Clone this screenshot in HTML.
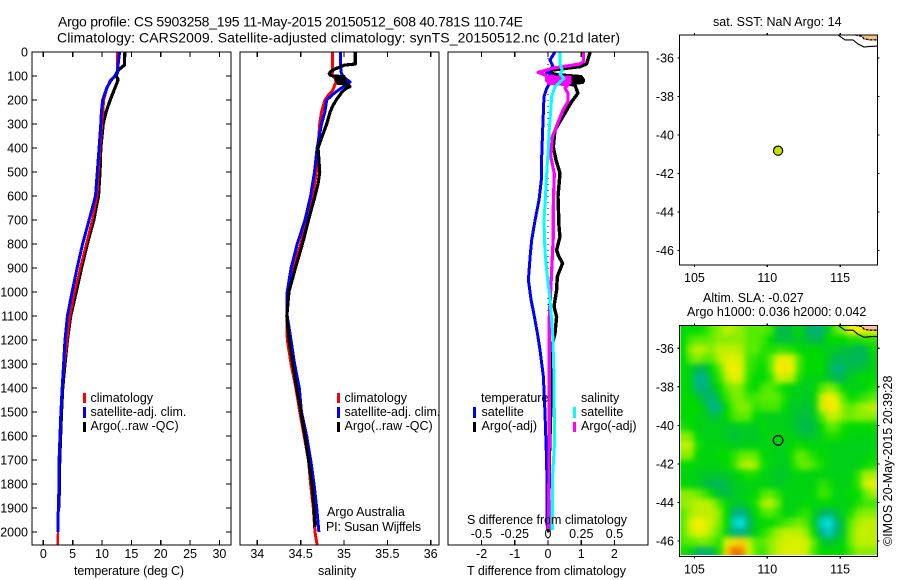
<!DOCTYPE html>
<html lang="en">
<head>
<meta charset="utf-8">
<title>Argo profile</title>
<style>
html,body{margin:0;padding:0;background:#fff;}
#chart{display:block;width:900px;height:580px;font-family:"Liberation Sans",sans-serif;}
#chart text{font-size:12.5px;fill:#000;}
#chart text.title{font-size:14px;}
.frame{fill:none;stroke:#000;stroke-width:1.4;shape-rendering:crispEdges;}
.tick{stroke:#000;stroke-width:1.2;shape-rendering:crispEdges;}
.series{fill:none;stroke-linejoin:round;shape-rendering:crispEdges;}
</style>
</head>
<body>
<svg id="chart" xmlns="http://www.w3.org/2000/svg" width="900" height="580" viewBox="0 0 900 580">
  <defs>
    <clipPath id="clip-temp"><rect x="32" y="52" width="199" height="493"/></clipPath>
    <clipPath id="clip-sal"><rect x="240" y="52" width="199" height="493"/></clipPath>
    <clipPath id="clip-diff"><rect x="448" y="52" width="200" height="493"/></clipPath>
    <clipPath id="clip-sla"><rect x="680.5" y="326" width="197" height="229"/></clipPath>
    <filter id="sla-smooth" filterUnits="userSpaceOnUse" x="640" y="280" width="280" height="320" color-interpolation-filters="sRGB"><feGaussianBlur stdDeviation="3"/></filter>
  </defs>

  <text class="title" x="58" y="26.5" textLength="465" lengthAdjust="spacing">Argo profile: CS 5903258_195 11-May-2015 20150512_608 40.781S 110.74E</text>
  <text class="title" x="57" y="42.5" textLength="563" lengthAdjust="spacing">Climatology: CARS2009. Satellite-adjusted climatology: synTS_20150512.nc (0.21d later)</text>

  <g id="panel-temp"></g>
  <g id="panel-sal"></g>
  <g id="panel-diff"></g>
  <g id="map-sst"></g>
  <g id="map-sla"></g>

  <text x="74" y="575" textLength="110" lengthAdjust="spacing">temperature (deg C)</text>
  <text x="318" y="575">salinity</text>
  <text x="467" y="575" textLength="159" lengthAdjust="spacing">T difference from climatology</text>
  <text x="467" y="524" textLength="160" lengthAdjust="spacing">S difference from climatology</text>

  <g>
    <rect x="83" y="393" width="3" height="10" fill="#f00"/>
    <rect x="83" y="407" width="3" height="11" fill="#00f"/>
    <rect x="83" y="422" width="3" height="10" fill="#000"/>
    <text x="90.5" y="402">climatology</text>
    <text x="90.5" y="416">satellite-adj. clim.</text>
    <text x="90.5" y="430">Argo(..raw -QC)</text>
  </g>
  <g>
    <rect x="337" y="393" width="3" height="10" fill="#f00"/>
    <rect x="337" y="407" width="3" height="11" fill="#00f"/>
    <rect x="337" y="422" width="3" height="10" fill="#000"/>
    <text x="344.5" y="402">climatology</text>
    <text x="344.5" y="416">satellite-adj. clim.</text>
    <text x="344.5" y="430">Argo(..raw -QC)</text>
  </g>
  <g>
    <rect x="473" y="407" width="3" height="11" fill="#00f"/>
    <rect x="473" y="422" width="3" height="10" fill="#000"/>
    <rect x="573" y="407" width="3" height="11" fill="#0ff"/>
    <rect x="573" y="422" width="3" height="10" fill="#f0f"/>
    <text x="481" y="402">temperature</text>
    <text x="481.5" y="416">satellite</text>
    <text x="481.5" y="430">Argo(-adj)</text>
    <text x="581" y="402">salinity</text>
    <text x="581" y="416">satellite</text>
    <text x="581" y="430">Argo(-adj)</text>
  </g>

  <text x="327" y="516">Argo Australia</text>
  <text x="326" y="531" textLength="95" lengthAdjust="spacing">PI: Susan Wijffels</text>

  <text x="713" y="26">sat. SST: NaN Argo: 14</text>
  <text x="703" y="302">Altim. SLA: -0.027</text>
  <text x="687" y="316">Argo h1000: 0.036 h2000: 0.042</text>
  <text transform="translate(892,546) rotate(-90)" x="0" y="0">©IMOS 20-May-2015 20:39:28</text>
</svg>

<script>
/* ---------- depth ticks ---------- */
const depthTicks = [0,100,200,300,400,500,600,700,800,900,1000,1100,1200,1300,1400,1500,1600,1700,1800,1900,2000];

/* ---------- temperature panel ---------- */
const tempTicks = [0,5,10,15,20,25,30];
const tempClimDepth = [0,80,100,120,150,200,250,300,400,500,600,700,800,900,1000,1100,1200,1300,1400,1500,1600,1700,1800,1900,2000,2054];
const tempClim = [12.6,12.6,12.2,11.3,10.9,10.3,10.2,10.0,9.7,9.4,9.2,8.35,7.3,6.3,5.35,4.55,4.05,3.6,3.2,3.0,2.85,2.75,2.7,2.58,2.5,2.45];
const tempSatDepth = [0,80,100,120,150,200,250,300,400,500,600,700,800,900,1000,1100,1200,1300,1400,1500,1600,1700,1800,1900,2000];
const tempSat = [13.0,12.6,12.2,11.5,10.8,10.1,9.9,9.8,9.5,9.2,8.9,7.8,6.7,5.75,4.9,4.1,3.7,3.45,3.22,3.0,2.85,2.7,2.7,2.55,2.5];
const tempArgoDepth = [0,55,75,100,110,120,150,200,250,300,400,500,600,700,800,900,1000,1100,1200,1300,1400,1500,1600,1700,1800,1900];
const tempArgo = [13.9,13.8,12.8,12.4,12.7,12.7,12.2,11.4,10.7,10.2,9.8,9.66,9.4,8.6,7.5,6.5,5.6,4.67,4.1,3.7,3.3,3.1,2.95,2.8,2.75,2.65];

/* ---------- salinity panel ---------- */
const salTicks = [34,34.5,35,35.5,36];
const salTickLabels = ['34','34.5','35','35.5','36'];
const salClimDepth = [0,85,95,110,125,140,160,180,200,250,300,350,400,500,600,700,800,900,1000,1100,1200,1300,1400,1500,1600,1700,1800,1900,2000,2054];
const salClim = [34.865,34.865,34.86,34.9,34.91,34.89,34.87,34.82,34.78,34.74,34.72,34.71,34.695,34.68,34.64,34.575,34.5,34.42,34.35,34.34,34.346,34.39,34.445,34.49,34.54,34.59,34.615,34.646,34.665,34.69];
const salSatDepth = [0,60,90,110,125,140,160,180,200,250,300,400,500,600,700,800,900,1000,1100,1200,1300,1400,1500,1600,1700,1800,1900,2000];
const salSat = [34.96,34.96,34.97,35.01,35.07,35.01,34.93,34.86,34.8,34.78,34.74,34.69,34.66,34.615,34.55,34.46,34.39,34.345,34.345,34.389,34.43,34.485,34.51,34.57,34.616,34.654,34.685,34.71];
const salArgoDepth = [0,50,55,62,70,80,90,96,100,103,106,109,112,115,118,121,124,127,130,133,137,144,150,165,180,200,225,250,300,350,400,450,500,550,600,700,800,900,1000,1100,1200,1300,1400,1500,1600,1700,1800,1900,1980];
const salArgo = [35.13,35.13,35.0,34.96,34.9,34.85,34.83,34.84,34.88,35.0,34.91,35.01,34.91,35.01,34.91,35.01,34.92,35.02,34.93,35.02,35.05,35.07,35.03,34.98,34.95,34.91,34.87,34.84,34.8,34.75,34.7,34.71,34.72,34.7,34.665,34.59,34.52,34.44,34.365,34.34,34.366,34.41,34.455,34.504,34.55,34.59,34.63,34.654,34.665];

/* ---------- difference panel ---------- */
const diffTTicks = [-2,-1,0,1,2];
const diffSTicks = [-0.5,-0.25,0,0.25,0.5];
const diffSTickLabels = ['-0.5','-0.25','0','0.25','0.5'];
const diffTArgoDepth = [0,50,61,75,85,95,103,106,109,112,115,118,121,124,127,130,137,172,207,255,325,395,450,505,603,728,770,825,850,880,936,992,1061,1103,1172,1242,1353,1500,1700,2000];
const diffTArgo = [1.27,1.16,0.96,0.15,-0.04,0.3,1.0,0.1,1.03,0.1,1.06,0.1,1.06,0.2,1.03,0.3,0.81,0.9,0.71,0.51,0.21,0.16,0.24,0.36,0.3,0.33,0.36,0.26,0.32,0.44,0.28,0.26,0.18,0.26,0.21,0.09,0.11,0.08,0.04,0.02];
const diffTSatDepth = [0,33,61,82,100,110,151,186,353,436,520,617,700,783,853,950,1033,1103,1172,1242,1353,1505,1714,1992];
const diffTSat = [0.21,0.06,0.15,-0.04,0.15,0.15,-0.04,-0.12,-0.17,-0.19,-0.19,-0.27,-0.39,-0.49,-0.54,-0.59,-0.51,-0.41,-0.32,-0.24,-0.14,-0.09,-0.04,-0.02];
const diffSSatDepth = [0,47,75,92,110,144,186,325,395,505,645,700,825,936,1033,1172,1353,1505,1644,1783,1992];
const diffSSat = [0.09,0.09,0.107,0.09,0.12,0.053,0.028,0.01,0.003,-0.01,-0.023,-0.03,-0.023,-0.005,0.015,0.035,0.045,0.047,0.047,0.033,0.035];
const diffSArgoDepth = [0,40,50,67,85,96,103,105,107,109,111,113,115,117,119,121,123,125,127,129,131,136,151,172,207,242,325,353,436,505,645,770,908,992,1103,1353,1505,1714,1992];
const diffSArgo = [0.266,0.266,0.24,0.04,-0.075,-0.02,-0.01,0.165,-0.01,0.165,-0.01,0.165,-0.01,0.165,-0.01,0.165,0.0,0.165,0.0,0.165,0.01,0.15,0.128,0.15,0.15,0.113,0.053,0.033,0.02,0.047,0.04,0.04,0.028,0.02,0.01,0.01,0.01,0.008,0.002];

/* ---------- maps ---------- */
const lonTicks = [105,110,115];
const latTicks = [-36,-38,-40,-42,-44,-46];
const floatLon = [110.74];
const floatLat = [-40.781];
const coastOuterLon = [114.85,115.33,115.88,116.22,116.64,117.05,117.6];
const coastOuterLat = [-34.8,-35.06,-35.06,-35.27,-35.43,-35.4,-35.38];
const coastInnerLon = [116.02,116.5,116.64,117.05,117.6];
const coastInnerLat = [-34.8,-34.88,-35.01,-35.06,-35.06];
/* sea level anomaly colour classes, 0.5 degree cells, north to south */
const slaGrid = [
[0,0,0,0.3,1,1.5,2,1.8,1.5,1,1,1,0.7,-0.8,-1,-0.6,0,-1,-1.5,-1.5,-0.3,1,1.5,3,3,3,3],
[0,0.8,1,1,1.2,1.5,1.5,1.5,1.5,1,1,0.7,0,-0.7,-0.8,-0.7,-0.3,-0.8,-1,-1,0,0,0,0.3,0.3,0.5,0.5],
[0,1.5,2,1.8,1.5,2,2,2,1.8,1,1,0.5,0.3,0.5,0.5,0.3,0,-0.2,0,-0.2,-0.3,-0.5,-0.7,-0.8,-1,-1,0],
[0,1,1.5,1,1,2,2.5,2.7,2.2,0.8,0.5,0.2,1,2.5,2.8,2.5,0.8,0,0,0,-0.5,-1,-1,-1,-1.2,-1,-0.3],
[0,-0.3,-1,-1,0,1,2.5,3,2.5,0.7,0.3,0,1,3,3.2,2.8,0.7,0,0,0,-0.7,-1.6,-1.3,-0.8,-0.8,-0.6,-0.2],
[0,-0.3,-1.8,-1.8,-0.3,0.5,2,2.7,2.3,0.5,0,0,0.5,2,2.2,1.8,0.3,-0.3,-0.2,-0.2,-0.5,-1,-1,-0.3,-0.2,0,0],
[0,-0.3,-1.5,-1.6,-0.8,0,1,1.5,1.3,0.3,0,0.8,1,0.5,0,-0.2,-0.3,-0.4,-0.2,0.8,1.5,1,0,-0.3,-0.3,-0.2,0.3],
[0,0,-0.5,-1.2,-1.5,-0.5,0.5,1.3,1.3,0.7,0.8,1,1,1,0.3,-0.3,-0.3,-0.5,-0.2,2,3,2.5,1,0,0.3,0.6,1],
[0,0,0,-0.5,-1.8,-1.5,0,1,1.5,1.3,0.5,0.7,0.8,0.7,0,-0.5,-0.5,-0.7,-0.3,2.3,3.2,3,1.5,1,1.5,1.8,2],
[0,0,-0.2,-0.2,-0.8,-0.6,0,0.8,1,1,0,-0.3,-0.3,-0.3,-0.3,-0.5,-0.7,-0.8,-0.5,0.8,2,2,1.5,1.2,1.5,1.5,1.5],
[0.3,0,-0.3,-0.3,-0.3,-0.3,-0.5,-0.5,-0.3,-0.3,-0.5,0,-0.3,-0.3,-0.3,-0.5,-0.8,-1,-0.8,0,1,1,0.3,0,0,0,0],
[1.5,1.3,0,-0.3,-0.3,-0.3,-0.5,-0.7,-0.5,-0.5,-0.5,-0.2,-0.2,-0.2,-0.2,-0.2,-0.5,-0.7,-0.5,-0.2,0.3,0.3,0,-0.2,-0.2,-0.2,-0.2],
[2,2,0.3,-0.2,-0.2,-0.2,-0.2,-0.3,-0.3,-0.3,-0.3,-0.2,-0.2,-0.3,-0.3,0,0.2,0,-0.2,-0.2,-0.2,-0.3,-0.3,-0.3,-0.3,-0.3,-0.2],
[1.5,1.5,0,-0.2,-0.2,0,0,0.5,1,1.2,1,0,-0.2,-0.3,-0.3,0.3,1.2,0.8,0.3,0,-0.2,-0.3,-0.3,-0.3,-0.3,-0.3,0],
[0,0,-0.2,-0.2,-0.2,-0.2,0,0.5,1.7,2,1.7,0.2,-0.2,-0.3,-0.5,0.2,1,1.2,0.7,0.2,-0.2,-0.3,-0.3,-0.3,-0.3,0,0.3],
[-0.2,-0.2,-0.3,-0.5,-0.5,-0.5,-0.5,-0.3,0,0.3,0.2,-0.2,-0.3,-0.5,-0.5,-0.3,-0.2,-0.2,-0.2,-0.2,-0.3,-0.3,-0.3,-0.2,0.5,1.7,1.8],
[0,-0.2,-0.3,-0.8,-1,-1.2,-0.8,-0.5,-0.3,-0.2,-0.2,-0.2,-0.3,-0.5,-0.3,-0.2,-0.2,-0.2,-0.2,0.5,0.3,-0.2,-0.3,-0.2,0.5,2.3,2.7],
[1.5,1.5,1.2,0.7,0,-0.8,-0.8,-0.5,-0.3,-0.2,0,0.8,1,0.5,-0.2,-0.2,-0.2,-0.2,0,0.7,0.5,-0.2,-0.2,0,0,1,1.7],
[1.5,1.8,2,2,1.8,0.8,0,-0.5,-0.5,-0.2,0.3,1.7,2,1.2,-0.2,-0.2,-0.2,0,-0.2,0,0,-0.2,-0.2,-0.2,0.3,0.7,0.7],
[1,1.7,2,2,2,1.5,0,-1.5,-1.8,-1,0,0.7,1,0.5,-0.2,-0.2,0.3,0.5,-0.3,-1,-1.5,-0.8,-0.3,0.3,1.2,1.5,1.5],
[1,2.3,3,2.7,2,1.3,0,-2.5,-3,-1.5,-0.3,0,0,0.3,0.7,1,1.3,0.8,-0.5,-2.5,-3,-1.8,-0.5,1,1.8,2,2],
[1,2,2.7,2.5,1.7,1,-0.3,-1.5,-1.8,-1,-0.2,0.3,1,1.7,2,2,2,1.5,0,-1.7,-2.5,-1.5,-0.5,1.2,2,2.2,2],
[0.8,1,1.2,1.3,1,0.5,2.5,3.3,3.5,2.2,1,1,1.5,2,2.3,2.5,2.5,2.3,1,-0.3,-0.8,-0.5,-0.2,1.2,2,2,2],
[0.3,-0.2,-1.2,-1.5,-1,0.3,3.5,5,4.8,2.5,1,0.6,1.5,2,2.5,2.5,2.5,2.2,0.8,0,0,0,0,0.7,1.5,1.5,1.5]
];
const slaColourLevels = [-3,-2,-1,0,1,2,3,4,5];
const slaColours = [[0,232,232],[0,176,160],[0,184,80],[0,218,0],[88,236,0],[188,240,0],[248,240,0],[248,176,0],[240,112,0]];

/* ---------- axis functions ---------- */
const NS = 'http://www.w3.org/2000/svg';
function yOf(d){return 52+0.24*d;}
function xTemp(v){return 43.3+5.87*v;}
function xSal(v){return 257.3+86.7*(v-34);}
function xDiffT(v){return 548+33.2*v;}
function xDiffS(v){return 548+133*v;}
function xLon(v){return 767.3+14.57*(v-110);}
function ySst(v){return 58+19.25*(-36-v);}
function ySla(v){return 348.3+19.27*(-36-v);}

function make(parent,tag,attrs,txt){
  const e=document.createElementNS(NS,tag);
  for(const k in attrs){e.setAttribute(k,attrs[k]);}
  if(txt!==undefined){e.textContent=txt;}
  parent.appendChild(e);
  return e;
}
function tickLine(parent,x1,y1,x2,y2,name){
  const el=make(parent,'line',{x1:x1,y1:y1,x2:x2,y2:y2,'class':'tick'});
  
  
}
function label(parent,x,y,anchor,str,name){
  const el=make(parent,'text',{x:x,y:y,'text-anchor':anchor},str);
  
  
}
function frame(parent,x,y,w,h,name){
  const el=make(parent,'rect',{x:x,y:y,width:w,height:h,'class':'frame'});
  
  
}
function series(parent,clip,depths,vals,xf,colour,width,name){
  const pts=vals.map(function(v,i){return xf(v).toFixed(1)+','+yOf(depths[i]).toFixed(1);}).join(' ');
  const el=make(parent,'polyline',{points:pts,'class':'series',stroke:colour,'stroke-width':width,'clip-path':'url(#'+clip+')'});
  
  
}

/* ---------- temperature ---------- */
const gT=document.getElementById('panel-temp');
series(gT,'clip-temp',tempArgoDepth,tempArgo,xTemp,'#000',3.2,'temperature-argo-line');
series(gT,'clip-temp',tempClimDepth,tempClim,xTemp,'#f00',2.4,'temperature-climatology-line');
series(gT,'clip-temp',tempSatDepth,tempSat,xTemp,'#00f',3,'temperature-satellite-line');
frame(gT,32,52,199,493,'temperature-plot-frame');
depthTicks.forEach(function(d){
  tickLine(gT,32,yOf(d),37,yOf(d),'depth-tick-left');
  tickLine(gT,226,yOf(d),231,yOf(d),'depth-tick-right');
  label(gT,28,yOf(d)+4.5,'end',String(d),'depth-tick-label');
});
tempTicks.forEach(function(v){
  tickLine(gT,xTemp(v),52,xTemp(v),57,'temperature-tick-top');
  tickLine(gT,xTemp(v),540,xTemp(v),545,'temperature-tick-bottom');
  label(gT,xTemp(v),558,'middle',String(v),'temperature-tick-label');
});

/* ---------- salinity ---------- */
const gS=document.getElementById('panel-sal');
series(gS,'clip-sal',salClimDepth,salClim,xSal,'#f00',3,'salinity-climatology-line');
series(gS,'clip-sal',salSatDepth,salSat,xSal,'#00f',3,'salinity-satellite-line');
series(gS,'clip-sal',salArgoDepth,salArgo,xSal,'#000',3.2,'salinity-argo-line');
frame(gS,240,52,199,493,'salinity-plot-frame');
salTicks.forEach(function(v,i){
  tickLine(gS,xSal(v),52,xSal(v),57,'salinity-tick-top');
  tickLine(gS,xSal(v),540,xSal(v),545,'salinity-tick-bottom');
  label(gS,xSal(v),558,'middle',salTickLabels[i],'salinity-tick-label');
});

/* ---------- differences ---------- */
const gD=document.getElementById('panel-diff');
const zero=make(gD,'line',{x1:xDiffT(0),y1:52,x2:xDiffT(0),y2:545,stroke:'#000','stroke-width':1,'stroke-dasharray':'1 5','shape-rendering':'crispEdges'});


series(gD,'clip-diff',diffTArgoDepth,diffTArgo,xDiffT,'#000',3.4,'t-difference-argo-line');
series(gD,'clip-diff',diffTSatDepth,diffTSat,xDiffT,'#00f',3,'t-difference-satellite-line');
series(gD,'clip-diff',diffSArgoDepth,diffSArgo,xDiffS,'#f0f',3.2,'s-difference-argo-line');
series(gD,'clip-diff',diffSSatDepth,diffSSat,xDiffS,'#0ff',3,'s-difference-satellite-line');
frame(gD,448,52,200,493,'difference-plot-frame');
diffTTicks.forEach(function(v){
  tickLine(gD,xDiffT(v),52,xDiffT(v),57,'t-difference-tick-top');
  tickLine(gD,xDiffT(v),540,xDiffT(v),545,'t-difference-tick-bottom');
  label(gD,xDiffT(v),558,'middle',String(v),'t-difference-tick-label');
});
diffSTicks.forEach(function(v,i){
  label(gD,xDiffS(v),538,'middle',diffSTickLabels[i],'s-difference-tick-label');
});

/* ---------- maps ---------- */
function slaColour(v){
  const L=slaColourLevels;
  let i=0;
  while(i<L.length-2&&v>L[i+1]){i++;}
  const t=Math.max(0,Math.min(1,(v-L[i])/(L[i+1]-L[i])));
  const a=slaColours[i],b=slaColours[i+1];
  return 'rgb('+[0,1,2].map(function(k){return Math.round(a[k]+(b[k]-a[k])*t);}).join(',')+')';
}
function coastPoints(lons,lats,yf){
  return lons.map(function(v,i){return xLon(v).toFixed(1)+','+yf(lats[i]).toFixed(1);});
}
function mapCommon(g,yf,top,bottom,fillColour,prefix){
  const innerPts=coastPoints(coastInnerLon,coastInnerLat,yf);
  const land=make(g,'polygon',{points:innerPts.join(' ')+' '+xLon(117.6).toFixed(1)+','+top,fill:fillColour});
  
  
  const outer=make(g,'polyline',{points:coastPoints(coastOuterLon,coastOuterLat,yf).join(' '),fill:'none',stroke:'#000','stroke-width':1.1});
  
  
  const inner=make(g,'polyline',{points:innerPts.join(' '),fill:'none',stroke:'#000','stroke-width':1.3,'stroke-dasharray':'3 1'});
  
  
  frame(g,679.5,top,198,bottom-top,prefix+'-plot-frame');
  lonTicks.forEach(function(v){
    tickLine(g,xLon(v),top-2,xLon(v),top,prefix+'-lon-tick-top');
    tickLine(g,xLon(v),bottom,xLon(v),bottom+2,prefix+'-lon-tick-bottom');
    label(g,xLon(v),bottom+17,'middle',String(v),prefix+'-lon-tick-label');
  });
  latTicks.forEach(function(v){
    tickLine(g,677.5,yf(v),679.5,yf(v),prefix+'-lat-tick-left');
    tickLine(g,877.5,yf(v),879.5,yf(v),prefix+'-lat-tick-right');
    label(g,674,yf(v)+4.5,'end',String(v),prefix+'-lat-tick-label');
  });
}

const gM1=document.getElementById('map-sst');
mapCommon(gM1,ySst,35,265,'#f8c080','sst-map');
const dot1=make(gM1,'circle',{cx:xLon(floatLon[0]),cy:ySst(floatLat[0])+0.7,r:4.6,fill:'#c4e000',stroke:'#000','stroke-width':1.2});



const gM2=document.getElementById('map-sla');
const clipG=make(gM2,'g',{'clip-path':'url(#clip-sla)'});


const heat=make(clipG,'g',{filter:'url(#sla-smooth)'});


const nRows=slaGrid.length,nCols=slaGrid[0].length;
const lon0=103.96,lat0=-34.8,cellDeg=0.5;
slaGrid.forEach(function(row,j){
  row.forEach(function(v,i){
    const pad=30;
    const x0=xLon(lon0+i*cellDeg)-(i===0?pad:0);
    const x1=xLon(lon0+(i+1)*cellDeg)+(i===nCols-1?pad:0);
    const y0=ySla(lat0-j*cellDeg)-(j===0?pad:0);
    const y1=ySla(lat0-(j+1)*cellDeg)+(j===nRows-1?pad:0);
    const cell=make(heat,'rect',{x:x0.toFixed(2),y:y0.toFixed(2),width:(x1-x0+0.6).toFixed(2),height:(y1-y0+0.6).toFixed(2),fill:slaColour(v)});
    
    
  });
});
mapCommon(gM2,ySla,325.5,556.5,'#ffc0a0','sla-map');
const dot2=make(gM2,'circle',{cx:xLon(floatLon[0]),cy:ySla(floatLat[0]),r:4.8,fill:'none',stroke:'#000','stroke-width':1.2});


</script>
</body>
</html>
